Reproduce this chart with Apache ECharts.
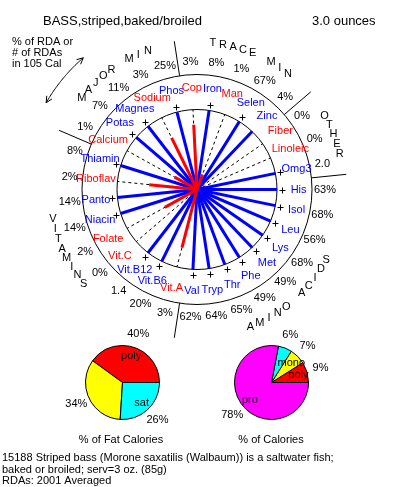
<!DOCTYPE html>
<html><head><meta charset="utf-8">
<script src="https://cdn.jsdelivr.net/npm/echarts@6/dist/echarts.min.js"></script>
<style>html,body{margin:0;padding:0;background:#fff}#c{width:393px;height:487px}</style>
</head><body><div id="c"></div>
<script>
// ---------------- DATA ----------------
const nutrients = ['His','Isol','Leu','Lys','Met','Phe','Thr','Tryp','Val',
  'Vit.A','Vit.B6','Vit.B12','Vit.C','Folate','Niacin','Panto','Riboflav','Thiamin',
  'Calcium','Potas','Magnes','Sodium','Phos',
  'Cop','Iron','Man','Selen','Zinc',
  'Fiber','Linoleic','Omg3'];
// spoke length in units of the inner circle (values above 1 are capped and marked "+")
const spoke = [15.8,17,14,17,12.3,12.3,16.3,16,15.5,
  0.75,5,35,0,0.46,3.5,3.5,0.6,2,
  0.32,1.75,2.75,0.72,6.25,
  0.81,2,0.2,16.8,1.0,
  0,0,50];
const rdaText = ['63%','68%','56%','68%','49%','49%','65%','64%','62%',
  '3%','20%','1.4','0%','2%','14%','14%','2%','8%',
  '1%','7%','11%','3%','25%',
  '3%','8%','1%','67%','4%',
  '0%','0%','2.0'];
const groupBreaks = [8.5, 17.5, 22.5, 27.5, 30.5]; // between nutrient indices
const groupTitles = ['MAJOR MIN','TRACE MIN','OTHER','AMINO ACIDS','VITAMINS'];
const groupTitleStart = [218.5, 276.2, 330, 68.7, 168.3]; // degrees
const groupTitleStep = [4, 4, 4, -4, -4];

const fatNames = ['poly','mono','sat'];
const fatValues = [40, 34, 26];
const fatLabels = ['40%','34%','26%'];
const calNames = ['poly','mono','sat','pro'];
const calValues = [9, 7, 6, 78];
const calLabels = ['9%','7%','6%','78%'];

const titleText = 'BASS,striped,baked/broiled';
const servingText = '3.0 ounces';
const noteText = '% of RDA or\n# of RDAs\nin 105 Cal';
const footerText = '15188 Striped bass (Morone saxatilis (Walbaum)) is a saltwater fish;\nbaked or broiled; serv=3 oz. (85g)\nRDAs: 2001 Averaged';

// ---------------- LAYOUT ----------------
const FONT = '"Liberation Sans", Arial, sans-serif';
const F11 = '11px ' + FONT, F13 = '13px ' + FONT;
const BLUE = '#0000ff', RED = '#ff0000';
const R_OUTER = 1.4375, R_LABEL = 1.27, R_VAL = 1.6, R_SEP = 1.875,
      R_LETTER = 1.84, R_ARROW = 2.175, R_PLUS = 1.065;
const N = nutrients.length;
const ang = i => i * 360 / N;
const colorOf = i => spoke[i] >= 1 ? BLUE : RED;
const pieColors = {poly: '#ff0000', mono: '#ffff00', sat: '#00ffff', pro: '#ff00ff'};

function txt(p, text, fill, font) {
  return {type: 'text', x: p[0], y: p[1],
    style: {text, fill: fill || '#000', font: font || F11, align: 'center', verticalAlign: 'middle'}};
}

const letterItems = [];
groupTitles.forEach((t, g) => {
  for (let k = 0; k < t.length; k++) {
    if (t[k] !== ' ') letterItems.push({ch: t[k], a: groupTitleStart[g] + k * groupTitleStep[g]});
  }
});

const chart = echarts.init(document.getElementById('c'));
const hiddenAxis = {show: false, axisLine: {show: false}, axisTick: {show: false}, axisLabel: {show: false}, splitLine: {show: false}};

function pieSeries(center, names, values, labels) {
  const base = {type: 'pie', center, startAngle: 0, clockwise: false, silent: true,
    emphasis: {disabled: true}, labelLine: {show: false}};
  return [
    Object.assign({}, base, {radius: [0, 37],
      data: names.map((n, i) => ({name: n, value: values[i], itemStyle: {color: pieColors[n]}})),
      itemStyle: {borderColor: '#000', borderWidth: 1}, label: {show: false}}),
    Object.assign({}, base, {radius: [13, 37],
      data: names.map((n, i) => ({name: n, value: values[i]})),
      itemStyle: {color: 'rgba(0,0,0,0)', borderWidth: 0},
      label: {show: true, position: 'inside', formatter: '{b}', color: '#000', fontSize: 11, fontFamily: FONT}}),
    Object.assign({}, base, {radius: [40, 56],
      data: names.map((n, i) => ({name: n, value: values[i]})),
      itemStyle: {color: 'rgba(0,0,0,0)', borderWidth: 0},
      label: {show: true, position: 'inside', formatter: p => labels[p.dataIndex], color: '#000', fontSize: 11, fontFamily: FONT}})
  ];
}

const option = {
  animation: false,
  backgroundColor: '#fff',
  polar: {center: [197, 189.5], radius: 180},
  angleAxis: Object.assign({type: 'value', min: 0, max: 360, startAngle: 0, clockwise: true}, hiddenAxis),
  radiusAxis: Object.assign({type: 'value', min: 0, max: 2.25}, hiddenAxis),
  graphic: [
    {type: 'text', x: 43, y: 21, style: {text: titleText, font: F13, fill: '#000', verticalAlign: 'middle'}},
    {type: 'text', x: 312, y: 21, style: {text: servingText, font: F13, fill: '#000', verticalAlign: 'middle'}},
    {type: 'text', x: 12, y: 36.5, style: {text: noteText, font: F11, lineHeight: 11, fill: '#000', verticalAlign: 'top'}},
    {type: 'text', x: 121, y: 440, style: {text: '% of Fat Calories', font: F11, fill: '#000', align: 'center', verticalAlign: 'middle'}},
    {type: 'text', x: 271, y: 440, style: {text: '% of Calories', font: F11, fill: '#000', align: 'center', verticalAlign: 'middle'}},
    {type: 'text', x: 2, y: 452.5, style: {text: footerText, font: F11, lineHeight: 11.5, fill: '#000', verticalAlign: 'top'}}
  ],
  series: [
    { // circles
      type: 'custom', coordinateSystem: 'polar', silent: true, data: [[0, 0]],
      renderItem(params, api) {
        const c = api.coord([0, 0]);
        const p1 = api.coord([1, 0]), p2 = api.coord([R_OUTER, 0]);
        const r1 = Math.hypot(p1[0] - c[0], p1[1] - c[1]);
        const r2 = Math.hypot(p2[0] - c[0], p2[1] - c[1]);
        return {type: 'group', children: [
          {type: 'circle', shape: {cx: c[0], cy: c[1], r: r1}, style: {fill: 'none', stroke: '#000', lineWidth: 1}},
          {type: 'circle', shape: {cx: c[0], cy: c[1], r: r2}, style: {fill: 'none', stroke: '#000', lineWidth: 1}}
        ]};
      }
    },
    { // dashed guide spokes
      type: 'custom', coordinateSystem: 'polar', silent: true,
      data: nutrients.map((n, i) => [1, ang(i)]),
      renderItem(params, api) {
        const c = api.coord([0, api.value(1)]), e = api.coord([api.value(0), api.value(1)]);
        return {type: 'line', shape: {x1: c[0], y1: c[1], x2: e[0], y2: e[1]},
          style: {stroke: '#000', lineWidth: 1, lineDash: [3, 3]}};
      }
    },
    { // value spokes + over-scale markers
      type: 'custom', coordinateSystem: 'polar', silent: true,
      data: nutrients.map((n, i) => [Math.min(spoke[i], 1), ang(i)]),
      renderItem(params, api) {
        const i = params.dataIndex;
        const a = api.value(1), v = api.value(0);
        const ch = [];
        if (v > 0) {
          const c = api.coord([0, a]), e = api.coord([v, a]);
          ch.push({type: 'line', shape: {x1: c[0], y1: c[1], x2: e[0], y2: e[1]},
            style: {stroke: colorOf(i), lineWidth: 3}, z2: spoke[i] < 1 ? 5 : 1});
        }
        if (spoke[i] > 1) {
          const p = api.coord([R_PLUS, a]);
          const x = Math.round(p[0]) + 0.5, y = Math.round(p[1]) + 0.5;
          ch.push({type: 'line', shape: {x1: x - 3, y1: y, x2: x + 3, y2: y}, style: {stroke: '#000', lineWidth: 1}});
          ch.push({type: 'line', shape: {x1: x, y1: y - 3, x2: x, y2: y + 3}, style: {stroke: '#000', lineWidth: 1}});
        }
        return {type: 'group', children: ch};
      }
    },
    { // nutrient names
      type: 'custom', coordinateSystem: 'polar', silent: true,
      data: nutrients.map((n, i) => [R_LABEL, ang(i)]),
      renderItem(params, api) {
        const i = params.dataIndex;
        return txt(api.coord([api.value(0), api.value(1)]), nutrients[i], colorOf(i));
      }
    },
    { // % RDA values
      type: 'custom', coordinateSystem: 'polar', silent: true,
      data: nutrients.map((n, i) => [R_VAL, ang(i)]),
      renderItem(params, api) {
        return txt(api.coord([api.value(0), api.value(1)]), rdaText[params.dataIndex], '#000');
      }
    },
    { // group separators
      type: 'custom', coordinateSystem: 'polar', silent: true,
      data: groupBreaks.map(b => [R_SEP, b * 360 / N]),
      renderItem(params, api) {
        const a = api.value(1);
        const s = api.coord([R_OUTER, a]), e = api.coord([api.value(0), a]);
        return {type: 'line', shape: {x1: s[0], y1: s[1], x2: e[0], y2: e[1]}, style: {stroke: '#000', lineWidth: 1}};
      }
    },
    { // group titles, letter by letter
      type: 'custom', coordinateSystem: 'polar', silent: true,
      data: letterItems.map(l => [R_LETTER, l.a]),
      renderItem(params, api) {
        return txt(api.coord([api.value(0), api.value(1)]), letterItems[params.dataIndex].ch, '#000');
      }
    },
    { // double-headed arrow
      type: 'custom', coordinateSystem: 'polar', silent: true, data: [[R_ARROW, 210]],
      renderItem(params, api) {
        const a0 = 209.9, a1 = 229.2, r = api.value(0);
        const pts = [];
        for (let a = a0; a <= a1 + 1e-6; a += 0.5) pts.push(api.coord([r, a]));
        pts.push(api.coord([r, a1]));
        function head(tip, prev) {
          const dx = prev[0] - tip[0], dy = prev[1] - tip[1], L = Math.hypot(dx, dy);
          const ux = dx / L, uy = dy / L, len = 7, s = 0.45;
          const rot = t => [tip[0] + len * (ux * Math.cos(t) - uy * Math.sin(t)), tip[1] + len * (ux * Math.sin(t) + uy * Math.cos(t))];
          return {type: 'polyline', shape: {points: [rot(s), tip, rot(-s)]}, style: {stroke: '#000', fill: 'none', lineWidth: 1}};
        }
        return {type: 'group', children: [
          {type: 'polyline', shape: {points: pts}, style: {stroke: '#000', fill: 'none', lineWidth: 1}},
          head(pts[0], pts[3]),
          head(pts[pts.length - 1], pts[pts.length - 4])
        ]};
      }
    }
  ].concat(pieSeries([122.5, 382.5], fatNames, fatValues, fatLabels))
   .concat(pieSeries([271.5, 382.5], calNames, calValues, calLabels))
};
chart.setOption(option);
</script>
</body></html>
